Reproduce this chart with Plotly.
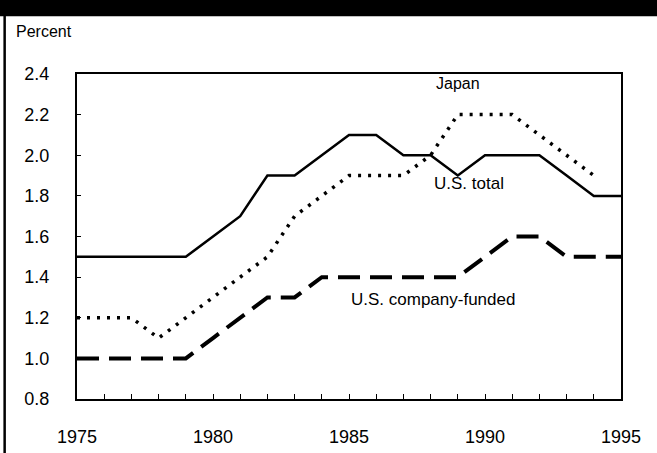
import plotly.graph_objects as go

years = list(range(1975, 1996))
us_total = [1.5, 1.5, 1.5, 1.5, 1.5, 1.6, 1.7, 1.9, 1.9, 2.0, 2.1, 2.1, 2.0, 2.0, 1.9, 2.0, 2.0, 2.0, 1.9, 1.8, 1.8]
japan = [1.2, 1.2, 1.2, 1.1, 1.2, 1.3, 1.4, 1.5, 1.7, 1.8, 1.9, 1.9, 1.9, 2.0, 2.2, 2.2, 2.2, 2.1, 2.0, 1.9, None]
us_company = [1.0, 1.0, 1.0, 1.0, 1.0, 1.1, 1.2, 1.3, 1.3, 1.4, 1.4, 1.4, 1.4, 1.4, 1.4, 1.5, 1.6, 1.6, 1.5, 1.5, 1.5]
x_ticktext = [str(y) if y % 5 == 0 else "" for y in years]
y_ticks = [0.8, 1.0, 1.2, 1.4, 1.6, 1.8, 2.0, 2.2, 2.4]

FONT = "Liberation Sans, Arial, sans-serif"

fig = go.Figure()
fig.add_trace(go.Scatter(x=years, y=us_total, mode="lines", name="U.S. total",
                         line=dict(color="black", width=2.5)))
fig.add_trace(go.Scatter(x=years, y=japan, mode="lines", name="Japan",
                         line=dict(color="black", width=3.5, dash="3px,7px")))
fig.add_trace(go.Scatter(x=years, y=us_company, mode="lines", name="U.S. company-funded",
                         line=dict(color="black", width=4, dash="22px,10px")))

fig.update_layout(
    width=657, height=453,
    margin=dict(l=77, r=36, t=74, b=54),
    paper_bgcolor="white", plot_bgcolor="white",
    showlegend=False,
    font=dict(family=FONT, color="black", size=18),
    xaxis=dict(range=[1975, 1995], tickvals=years, ticktext=x_ticktext,
               ticks="inside", ticklen=5, tickwidth=1, tickcolor="black",
               showline=True, linecolor="black", linewidth=2, mirror=True,
               showgrid=False, zeroline=False, ticklabelstandoff=20,
               automargin=False, tickfont=dict(size=18, family=FONT)),
    yaxis=dict(range=[0.8, 2.4], tickvals=y_ticks, tickformat=".1f",
               ticks="inside", ticklen=4, tickwidth=1, tickcolor="black",
               showline=True, linecolor="black", linewidth=2, mirror=True,
               showgrid=False, zeroline=False, ticklabelstandoff=22,
               automargin=False, tickfont=dict(size=18, family=FONT)),
    shapes=[
        dict(type="rect", xref="paper", yref="paper", x0=-0.3, x1=1.2,
             y0=1.178, y1=1.35, fillcolor="black", line=dict(width=0), layer="above"),
        dict(type="line", xref="paper", yref="paper", x0=-0.133, x1=-0.133,
             y0=1.18, y1=-0.3, line=dict(color="black", width=2.5), layer="above"),
    ],
    annotations=[
        dict(text="Percent", xref="paper", yref="paper", x=-0.115, y=1.13,
             xanchor="left", yanchor="middle", showarrow=False,
             font=dict(size=16, family=FONT)),
        dict(text="Japan", xref="x", yref="y", x=1989.0, y=2.355, showarrow=False,
             xanchor="center", yanchor="middle", font=dict(size=16, family=FONT)),
        dict(text="U.S. total", xref="x", yref="y", x=1989.4, y=1.86, showarrow=False,
             xanchor="center", yanchor="middle", font=dict(size=17, family=FONT)),
        dict(text="U.S. company-funded", xref="x", yref="y", x=1988.1, y=1.29, showarrow=False,
             xanchor="center", yanchor="middle", font=dict(size=17, family=FONT)),
    ],
)

fig.write_html("out.html", config={"displayModeBar": False},
               post_script="document.body.style.margin='0';document.body.style.overflow='hidden';")
